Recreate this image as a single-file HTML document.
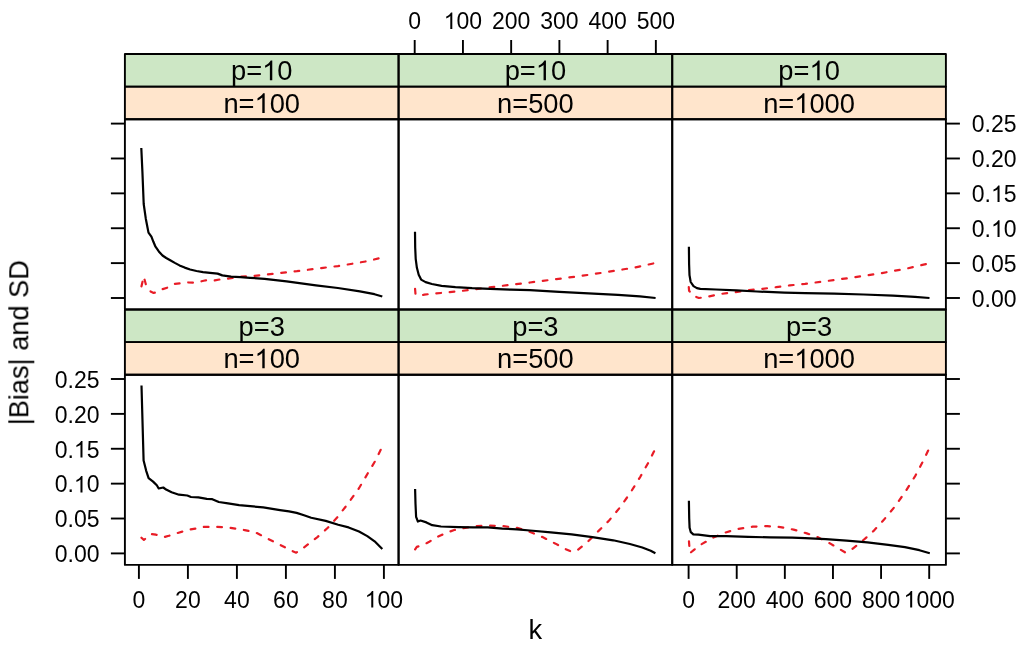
<!DOCTYPE html>
<html><head><meta charset="utf-8"><title>chart</title>
<style>html,body{margin:0;padding:0;background:#fff}svg{display:block}text{font-family:"Liberation Sans",sans-serif;fill:#000}</style></head><body>
<svg width="1024" height="649" viewBox="0 0 1024 649">
<rect width="1024" height="649" fill="#fff"/>
<rect x="124.9" y="54" width="273.67" height="32.65" fill="#cde7c5"/>
<rect x="124.9" y="86.65" width="273.67" height="32.65" fill="#ffe5cc"/>
<rect x="398.57" y="54" width="273.67" height="32.65" fill="#cde7c5"/>
<rect x="398.57" y="86.65" width="273.67" height="32.65" fill="#ffe5cc"/>
<rect x="672.23" y="54" width="273.67" height="32.65" fill="#cde7c5"/>
<rect x="672.23" y="86.65" width="273.67" height="32.65" fill="#ffe5cc"/>
<rect x="124.9" y="309.45" width="273.67" height="32.65" fill="#cde7c5"/>
<rect x="124.9" y="342.1" width="273.67" height="32.65" fill="#ffe5cc"/>
<rect x="398.57" y="309.45" width="273.67" height="32.65" fill="#cde7c5"/>
<rect x="398.57" y="342.1" width="273.67" height="32.65" fill="#ffe5cc"/>
<rect x="672.23" y="309.45" width="273.67" height="32.65" fill="#cde7c5"/>
<rect x="672.23" y="342.1" width="273.67" height="32.65" fill="#ffe5cc"/>
<polyline points="141.26,287.3 143.72,276.5 146.2,285.6 148.6,289.6 151.1,291.8 153.6,292.9 156,292.5 158.5,291.3 161.4,289.5 167.2,287.7 174.3,283.9 180.1,283.4 186.6,282.4 193,282.7 200.6,281.5 205.9,280.3 213.5,280.7 219.4,279.5 227,278.7 232.9,278 241,276.5 252.9,276 273.4,273.7 296.9,271.2 323.2,267.8 337.9,266.1 352.5,263.7 367.2,261.2 382.3,257.5" fill="none" stroke="#e81c26" stroke-width="2.2" stroke-dasharray="4.7 8.7" stroke-dashoffset="-1" stroke-linecap="round" stroke-linejoin="round"/>
<polyline points="141.3,148 142.4,171.6 143.7,204 145.8,218.7 147.3,226.5 148.5,232.6 151.4,236.7 153.4,241.8 155.5,246.7 158.8,251.4 162.5,255.5 166.2,258 170.2,260.2 174.8,262.9 179.5,265.4 184.7,267.6 190.1,269.5 196.5,271 203,272.1 210,272.9 217.6,273.6 222.3,275.4 231.1,276.6 240.5,277.2 250,277.8 264.6,278.8 286.6,281.3 315.9,285.4 337.9,288 359.9,291.3 374.5,294.2 382.3,296.5" fill="none" stroke="#000" stroke-width="2.2" stroke-linejoin="round" stroke-linecap="butt"/>
<polyline points="415,287.9 415.5,294.2 419.4,296 424.3,294.6 433.3,293.7 447.1,292.4 461,291 474.9,289.3 488.7,287.5 502.6,285.8 515.1,284.2 530,282.5 556.4,279.1 582.7,275.7 609.1,271.7 635.5,267.4 655.3,263" fill="none" stroke="#e81c26" stroke-width="2.2" stroke-dasharray="4.7 8.7" stroke-dashoffset="-1" stroke-linecap="round" stroke-linejoin="round"/>
<polyline points="415,231.8 415.2,247.7 415.7,258.8 416.9,267.8 418.7,274.8 421.1,279.6 425.6,282.1 431.9,284 441.6,285.8 455.4,287.1 472.1,288.2 490.1,288.8 510.9,289.7 530,290.2 559.3,291.8 588.6,293.4 617.9,294.9 639.9,296.4 655.6,298" fill="none" stroke="#000" stroke-width="2.2" stroke-linejoin="round" stroke-linecap="butt"/>
<polyline points="688.7,286.1 689.1,290.8 693.5,295.9 698.9,298 706.4,297 720.1,294 735.2,292.2 748.8,290.2 762.5,288.8 776.2,287.2 789.8,285.4 805,283.9 828.4,280.8 854.8,277.2 881.2,273.2 907.5,268.4 929.4,263.3" fill="none" stroke="#e81c26" stroke-width="2.2" stroke-dasharray="4.7 8.7" stroke-dashoffset="-1" stroke-linecap="round" stroke-linejoin="round"/>
<polyline points="688.9,246.7 689.1,264.2 689.5,275.1 690.7,282 693.5,286.1 696.9,288.1 700.3,288.9 716,289.5 736.5,290.4 757,291.5 784.4,292.6 805,293.1 834.3,293.7 863.6,294.5 892.9,295.6 914.9,296.8 929.5,298" fill="none" stroke="#000" stroke-width="2.2" stroke-linejoin="round" stroke-linecap="butt"/>
<polyline points="140.7,537.1 143.9,539.9 151.3,534 155.9,534.7 164.2,537.1 168.8,535.8 176.2,533.4 189.2,529.7 204,526.9 216.9,526.9 229.9,527.7 244.7,530.1 255.8,532.5 267.5,538.6 280,544.8 291.4,550.7 296.2,552.7 303.9,547.5 317.4,537.1 327.8,527.8 338.2,516.3 348.6,502.8 359,488.2 369.4,470.6 375.7,460.2 382.3,446.5" fill="none" stroke="#e81c26" stroke-width="2.2" stroke-dasharray="4.7 8.7" stroke-dashoffset="-1" stroke-linecap="round" stroke-linejoin="round"/>
<polyline points="141.5,385.5 143.6,460.6 146.2,470.8 148.6,478.1 153.1,481.6 156.8,485.3 158.7,488.5 163.3,487.5 166.1,489.6 171.6,492.3 179,494.7 187.3,495.5 191,497 198.4,497.3 206.8,498.8 212.3,499.2 218.8,502 228,503.3 239.1,505.1 250.2,506.2 263.2,507.3 280,510.1 289,511.4 296.6,512.9 304,515.2 311.2,517.7 325.7,520.9 338.2,524.7 348.6,527.4 359,531.5 367.3,536.1 374.6,541.3 382.3,549" fill="none" stroke="#000" stroke-width="2.2" stroke-linejoin="round" stroke-linecap="butt"/>
<polyline points="414.6,550.2 416.8,546.9 423.4,544.7 429.3,541.8 435.1,538.1 441,535.2 448.3,532.2 454.2,530 461.5,528.6 473.2,526.4 487.9,525.6 502.5,526.1 517.1,527.8 528.9,531.5 542.5,537.1 555,543.4 565.4,549 571.6,551.7 576.8,550.7 588.2,541.3 598.6,530.9 609.1,520.5 619.5,508 629.9,493.5 640.3,476.8 648.6,462.2 655.2,449" fill="none" stroke="#e81c26" stroke-width="2.2" stroke-dasharray="4.7 8.7" stroke-dashoffset="-1" stroke-linecap="round" stroke-linejoin="round"/>
<polyline points="415.1,489 415.5,503.7 416.1,516.9 417.9,521.5 420.5,520.5 426.4,522.4 432.2,525.2 441,526.5 458.6,527.1 473.2,527.4 487.9,527.4 502.5,528.6 517.1,529.3 530,530.5 550.8,532.4 571.6,534.4 592.4,537.1 613.2,540.3 629.9,544 642.3,547.5 650.7,550.7 655.4,553.2" fill="none" stroke="#000" stroke-width="2.2" stroke-linejoin="round" stroke-linecap="butt"/>
<polyline points="688.9,540.3 689.4,546.9 689.9,553.2 694,549.8 700.6,544.7 705.8,541.8 713.1,537.7 724.8,532.7 738,528.9 752.6,526.7 767.3,526.1 780.4,527.1 793.6,529.6 806.8,533.4 817.5,537.1 830,543.4 840.4,549.6 845.6,552.7 852.8,548.6 863.2,540.3 873.6,530.9 884.1,519.5 894.5,507 904.9,492.4 915.3,475.8 923.6,460.2 929.6,447.5" fill="none" stroke="#e81c26" stroke-width="2.2" stroke-dasharray="4.7 8.7" stroke-dashoffset="-1" stroke-linecap="round" stroke-linejoin="round"/>
<polyline points="688.9,500.8 689.2,518.3 689.6,527.8 690.8,532.2 693.3,534.4 698.4,534.7 710.1,536.2 726.3,536.2 748.2,536.8 770.2,537.4 792.1,537.7 805,538.2 825.8,539.2 846.6,540.7 867.4,542.3 888.2,544.8 904.9,547.1 919.4,550.2 929.8,553.2" fill="none" stroke="#000" stroke-width="2.2" stroke-linejoin="round" stroke-linecap="butt"/>
<g stroke="#000" stroke-width="1.9" fill="none" stroke-linecap="butt" stroke-linejoin="round">
<rect x="124.9" y="54" width="273.67" height="32.65"/>
<rect x="124.9" y="86.65" width="273.67" height="32.65"/>
<rect x="124.9" y="119.3" width="273.67" height="190.15"/>
<rect x="398.57" y="54" width="273.67" height="32.65"/>
<rect x="398.57" y="86.65" width="273.67" height="32.65"/>
<rect x="398.57" y="119.3" width="273.67" height="190.15"/>
<rect x="672.23" y="54" width="273.67" height="32.65"/>
<rect x="672.23" y="86.65" width="273.67" height="32.65"/>
<rect x="672.23" y="119.3" width="273.67" height="190.15"/>
<rect x="124.9" y="309.45" width="273.67" height="32.65"/>
<rect x="124.9" y="342.1" width="273.67" height="32.65"/>
<rect x="124.9" y="374.75" width="273.67" height="190.15"/>
<rect x="398.57" y="309.45" width="273.67" height="32.65"/>
<rect x="398.57" y="342.1" width="273.67" height="32.65"/>
<rect x="398.57" y="374.75" width="273.67" height="190.15"/>
<rect x="672.23" y="309.45" width="273.67" height="32.65"/>
<rect x="672.23" y="342.1" width="273.67" height="32.65"/>
<rect x="672.23" y="374.75" width="273.67" height="190.15"/>
<line x1="110.9" y1="298" x2="124.9" y2="298"/>
<line x1="945.9" y1="298" x2="959.9" y2="298"/>
<line x1="110.9" y1="263.12" x2="124.9" y2="263.12"/>
<line x1="945.9" y1="263.12" x2="959.9" y2="263.12"/>
<line x1="110.9" y1="228.24" x2="124.9" y2="228.24"/>
<line x1="945.9" y1="228.24" x2="959.9" y2="228.24"/>
<line x1="110.9" y1="193.36" x2="124.9" y2="193.36"/>
<line x1="945.9" y1="193.36" x2="959.9" y2="193.36"/>
<line x1="110.9" y1="158.48" x2="124.9" y2="158.48"/>
<line x1="945.9" y1="158.48" x2="959.9" y2="158.48"/>
<line x1="110.9" y1="123.6" x2="124.9" y2="123.6"/>
<line x1="945.9" y1="123.6" x2="959.9" y2="123.6"/>
<line x1="110.9" y1="553.4" x2="124.9" y2="553.4"/>
<line x1="945.9" y1="553.4" x2="959.9" y2="553.4"/>
<line x1="110.9" y1="518.52" x2="124.9" y2="518.52"/>
<line x1="945.9" y1="518.52" x2="959.9" y2="518.52"/>
<line x1="110.9" y1="483.64" x2="124.9" y2="483.64"/>
<line x1="945.9" y1="483.64" x2="959.9" y2="483.64"/>
<line x1="110.9" y1="448.76" x2="124.9" y2="448.76"/>
<line x1="945.9" y1="448.76" x2="959.9" y2="448.76"/>
<line x1="110.9" y1="413.88" x2="124.9" y2="413.88"/>
<line x1="945.9" y1="413.88" x2="959.9" y2="413.88"/>
<line x1="110.9" y1="379" x2="124.9" y2="379"/>
<line x1="945.9" y1="379" x2="959.9" y2="379"/>
<line x1="138.9" y1="564.9" x2="138.9" y2="578.9"/>
<line x1="187.9" y1="564.9" x2="187.9" y2="578.9"/>
<line x1="236.9" y1="564.9" x2="236.9" y2="578.9"/>
<line x1="285.9" y1="564.9" x2="285.9" y2="578.9"/>
<line x1="334.9" y1="564.9" x2="334.9" y2="578.9"/>
<line x1="383.9" y1="564.9" x2="383.9" y2="578.9"/>
<line x1="688.6" y1="564.9" x2="688.6" y2="578.9"/>
<line x1="736.72" y1="564.9" x2="736.72" y2="578.9"/>
<line x1="784.84" y1="564.9" x2="784.84" y2="578.9"/>
<line x1="832.96" y1="564.9" x2="832.96" y2="578.9"/>
<line x1="881.08" y1="564.9" x2="881.08" y2="578.9"/>
<line x1="929.2" y1="564.9" x2="929.2" y2="578.9"/>
<line x1="414.7" y1="54" x2="414.7" y2="40"/>
<line x1="462.93" y1="54" x2="462.93" y2="40"/>
<line x1="511.16" y1="54" x2="511.16" y2="40"/>
<line x1="559.39" y1="54" x2="559.39" y2="40"/>
<line x1="607.62" y1="54" x2="607.62" y2="40"/>
<line x1="655.85" y1="54" x2="655.85" y2="40"/>
</g>
<g style="opacity:0.999">
<text x="230.99" y="80.23" font-size="27.3">p=</text>
<path d="M763 0H583V1147Q518 1085 412.5 1023T223 930V1104Q374 1175 487 1276T647 1472H763Z" transform="translate(262.11,80.23) scale(0.01333,-0.01333)"/>
<text x="277.3" y="80.23" font-size="27.3">0</text>
<text x="223.4" y="112.88" font-size="27.3">n=</text>
<path d="M763 0H583V1147Q518 1085 412.5 1023T223 930V1104Q374 1175 487 1276T647 1472H763Z" transform="translate(254.52,112.88) scale(0.01333,-0.01333)"/>
<text x="269.7" y="112.88" font-size="27.3">00</text>
<text x="504.65" y="80.23" font-size="27.3">p=</text>
<path d="M763 0H583V1147Q518 1085 412.5 1023T223 930V1104Q374 1175 487 1276T647 1472H763Z" transform="translate(535.78,80.23) scale(0.01333,-0.01333)"/>
<text x="550.96" y="80.23" font-size="27.3">0</text>
<text x="535.4" y="112.88" font-size="27.3" text-anchor="middle">n=500</text>
<text x="778.32" y="80.23" font-size="27.3">p=</text>
<path d="M763 0H583V1147Q518 1085 412.5 1023T223 930V1104Q374 1175 487 1276T647 1472H763Z" transform="translate(809.45,80.23) scale(0.01333,-0.01333)"/>
<text x="824.63" y="80.23" font-size="27.3">0</text>
<text x="763.14" y="112.88" font-size="27.3">n=</text>
<path d="M763 0H583V1147Q518 1085 412.5 1023T223 930V1104Q374 1175 487 1276T647 1472H763Z" transform="translate(794.26,112.88) scale(0.01333,-0.01333)"/>
<text x="809.45" y="112.88" font-size="27.3">000</text>
<text x="261.73" y="335.67" font-size="27.3" text-anchor="middle">p=3</text>
<text x="223.4" y="368.32" font-size="27.3">n=</text>
<path d="M763 0H583V1147Q518 1085 412.5 1023T223 930V1104Q374 1175 487 1276T647 1472H763Z" transform="translate(254.52,368.32) scale(0.01333,-0.01333)"/>
<text x="269.7" y="368.32" font-size="27.3">00</text>
<text x="535.4" y="335.67" font-size="27.3" text-anchor="middle">p=3</text>
<text x="535.4" y="368.32" font-size="27.3" text-anchor="middle">n=500</text>
<text x="809.07" y="335.67" font-size="27.3" text-anchor="middle">p=3</text>
<text x="763.14" y="368.32" font-size="27.3">n=</text>
<path d="M763 0H583V1147Q518 1085 412.5 1023T223 930V1104Q374 1175 487 1276T647 1472H763Z" transform="translate(794.26,368.32) scale(0.01333,-0.01333)"/>
<text x="809.45" y="368.32" font-size="27.3">000</text>
<text x="99.5" y="562.25" font-size="23.0" text-anchor="end">0.00</text>
<text x="971.8" y="306.65" font-size="23.0" text-anchor="start">0.00</text>
<text x="99.5" y="527.37" font-size="23.0" text-anchor="end">0.05</text>
<text x="971.8" y="271.77" font-size="23.0" text-anchor="start">0.05</text>
<text x="54.74" y="492.49" font-size="23.0">0.</text>
<path d="M763 0H583V1147Q518 1085 412.5 1023T223 930V1104Q374 1175 487 1276T647 1472H763Z" transform="translate(73.92,492.49) scale(0.01123,-0.01123)"/>
<text x="86.71" y="492.49" font-size="23.0">0</text>
<text x="971.8" y="236.89" font-size="23.0">0.</text>
<path d="M763 0H583V1147Q518 1085 412.5 1023T223 930V1104Q374 1175 487 1276T647 1472H763Z" transform="translate(990.98,236.89) scale(0.01123,-0.01123)"/>
<text x="1003.77" y="236.89" font-size="23.0">0</text>
<text x="54.74" y="457.61" font-size="23.0">0.</text>
<path d="M763 0H583V1147Q518 1085 412.5 1023T223 930V1104Q374 1175 487 1276T647 1472H763Z" transform="translate(73.92,457.61) scale(0.01123,-0.01123)"/>
<text x="86.71" y="457.61" font-size="23.0">5</text>
<text x="971.8" y="202.01" font-size="23.0">0.</text>
<path d="M763 0H583V1147Q518 1085 412.5 1023T223 930V1104Q374 1175 487 1276T647 1472H763Z" transform="translate(990.98,202.01) scale(0.01123,-0.01123)"/>
<text x="1003.77" y="202.01" font-size="23.0">5</text>
<text x="99.5" y="422.73" font-size="23.0" text-anchor="end">0.20</text>
<text x="971.8" y="167.13" font-size="23.0" text-anchor="start">0.20</text>
<text x="99.5" y="387.85" font-size="23.0" text-anchor="end">0.25</text>
<text x="971.8" y="132.25" font-size="23.0" text-anchor="start">0.25</text>
<text x="138.9" y="607.6" font-size="23.0" text-anchor="middle">0</text>
<text x="187.9" y="607.6" font-size="23.0" text-anchor="middle">20</text>
<text x="236.9" y="607.6" font-size="23.0" text-anchor="middle">40</text>
<text x="285.9" y="607.6" font-size="23.0" text-anchor="middle">60</text>
<text x="334.9" y="607.6" font-size="23.0" text-anchor="middle">80</text>
<path d="M763 0H583V1147Q518 1085 412.5 1023T223 930V1104Q374 1175 487 1276T647 1472H763Z" transform="translate(364.71,607.6) scale(0.01123,-0.01123)"/>
<text x="377.5" y="607.6" font-size="23.0">00</text>
<text x="688.6" y="607.6" font-size="23.0" text-anchor="middle">0</text>
<text x="736.72" y="607.6" font-size="23.0" text-anchor="middle">200</text>
<text x="784.84" y="607.6" font-size="23.0" text-anchor="middle">400</text>
<text x="832.96" y="607.6" font-size="23.0" text-anchor="middle">600</text>
<text x="881.08" y="607.6" font-size="23.0" text-anchor="middle">800</text>
<path d="M763 0H583V1147Q518 1085 412.5 1023T223 930V1104Q374 1175 487 1276T647 1472H763Z" transform="translate(903.62,607.6) scale(0.01123,-0.01123)"/>
<text x="916.41" y="607.6" font-size="23.0">000</text>
<text x="414.7" y="29" font-size="23.0" text-anchor="middle">0</text>
<path d="M763 0H583V1147Q518 1085 412.5 1023T223 930V1104Q374 1175 487 1276T647 1472H763Z" transform="translate(443.74,29) scale(0.01123,-0.01123)"/>
<text x="456.53" y="29" font-size="23.0">00</text>
<text x="511.16" y="29" font-size="23.0" text-anchor="middle">200</text>
<text x="559.39" y="29" font-size="23.0" text-anchor="middle">300</text>
<text x="607.62" y="29" font-size="23.0" text-anchor="middle">400</text>
<text x="655.85" y="29" font-size="23.0" text-anchor="middle">500</text>
<text x="535.4" y="639.2" font-size="27.3" text-anchor="middle">k</text>
<text transform="translate(28.3,342.7) rotate(-90)" font-size="27.2" text-anchor="middle">|Bias| and SD</text>
</g>
</svg></body></html>
